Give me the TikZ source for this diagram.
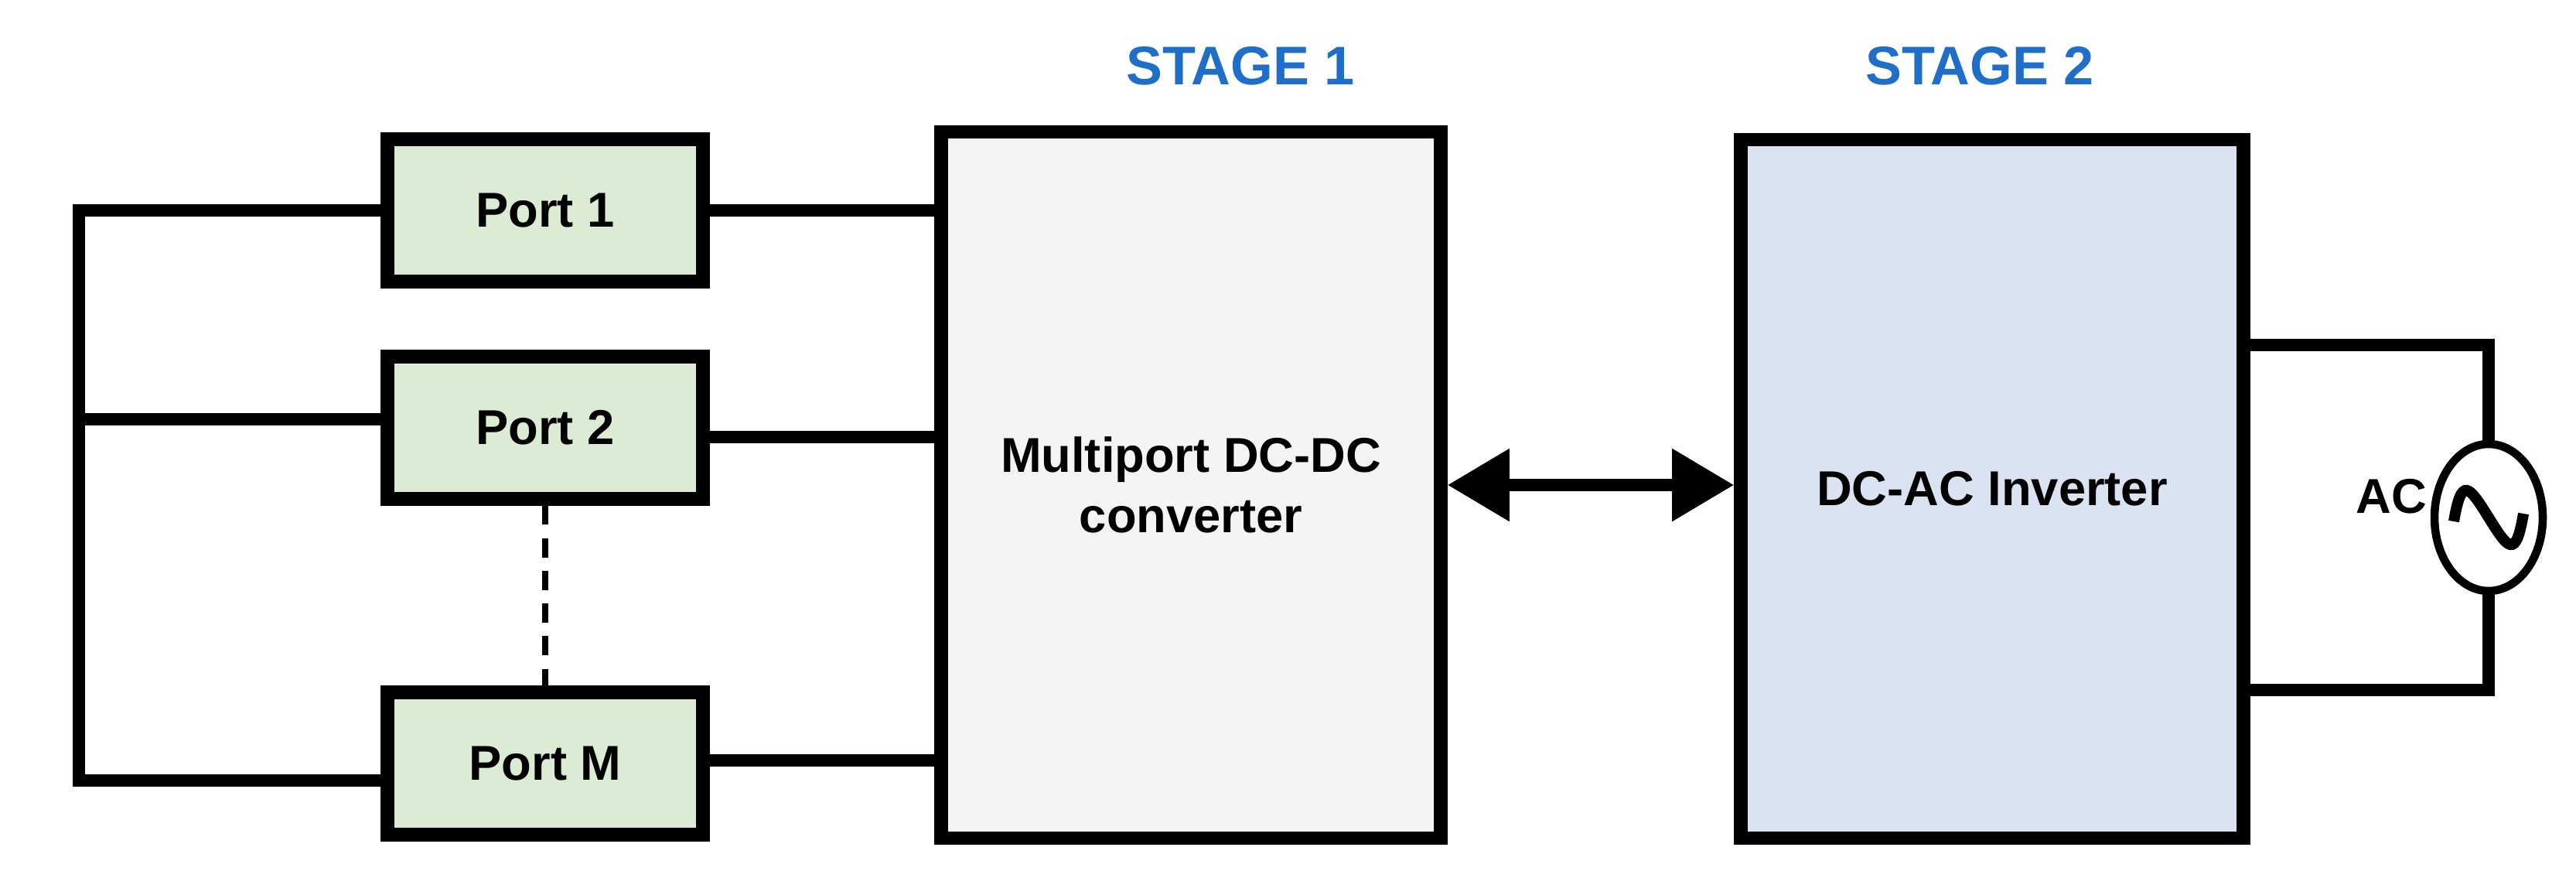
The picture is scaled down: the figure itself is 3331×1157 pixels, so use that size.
\documentclass[tikz,border=0pt]{standalone}
\usepackage{fontspec}
\setmainfont{Liberation Sans}
\usetikzlibrary{arrows.meta,shapes.geometric,calc}
\definecolor{portfill}{HTML}{DCEBD4}
\definecolor{s1fill}{HTML}{F4F4F4}
\definecolor{s2fill}{HTML}{D9E3F2}
\definecolor{stageblue}{HTML}{1F6FC8}
\begin{document}
\begin{tikzpicture}[x=0.1mm,y=-0.1mm,
  wire/.style={line width=4.5pt},
  box/.style={draw,line width=5pt,inner sep=0pt},
  lbl/.style={font=\bfseries\fontsize{18}{22}\selectfont},
  port/.style={box,fill=portfill,minimum width=40.8mm,minimum height=18.4mm,lbl},
  stage/.style={text=stageblue,font=\bfseries\fontsize{20}{24}\selectfont}]
\useasboundingbox (0,0) rectangle (3331,1157);
\node[port] (p1) at (705,272) {Port 1};
\node[port] (p2) at (705,553) {Port 2};
\node[port] (pm) at (705,987) {Port M};
\node[box,fill=s1fill,minimum width=64.6mm,minimum height=91.3mm,align=center,lbl] (s1) at (1540,627) {Multiport DC-DC\\converter};
\node[box,fill=s2fill,minimum width=65mm,minimum height=90.3mm,lbl] (s2) at (2576,632) {DC-AC Inverter};
\node[stage] (t1) at (1604,85) {STAGE 1};
\node[stage] (t2) at (2560,85) {STAGE 2};
\node[draw,line width=3pt,ellipse,minimum width=14mm,minimum height=19mm,inner sep=0pt] (ac) at (3218,669) {};
\draw[line width=4pt] ($(ac.center)+(-45,5)$) .. controls +(10,-60) and +(-25,-40) .. (ac.center) .. controls +(25,40) and +(-10,60) .. ($(ac.center)+(45,-5)$);
\node[lbl] (aclbl) at (3092,642) {AC};
\coordinate (b1) at (102,272);
\coordinate (b2) at (102,542);
\coordinate (bm) at (102,1009);
\coordinate (q2) at (909,565);
\coordinate (qm) at (909,983);
\draw[wire] (p1.west) -- (b1) -- (bm) -- (bm-|pm.west);
\draw[wire] (b2) -- (b2-|p2.west);
\draw[wire] (p1.east) -- (p1.east-|s1.west);
\draw[wire] (q2) -- (q2-|s1.west);
\draw[wire] (qm) -- (qm-|s1.west);
\draw[line width=2pt,dash pattern=on 7pt off 5pt] (p2.south) -- (pm.north);
\draw[wire,{Triangle[length=8mm,width=9mm]}-{Triangle[length=8mm,width=9mm]}] (s1.east) -- (s2.west|-s1.east);
\coordinate (r1) at (3218,446);
\coordinate (r2) at (3218,892);
\draw[wire] (s2.east|-r1) -- (r1) -- (ac.north);
\draw[wire] (s2.east|-r2) -- (r2) -- (ac.south);
\end{tikzpicture}
\end{document}
